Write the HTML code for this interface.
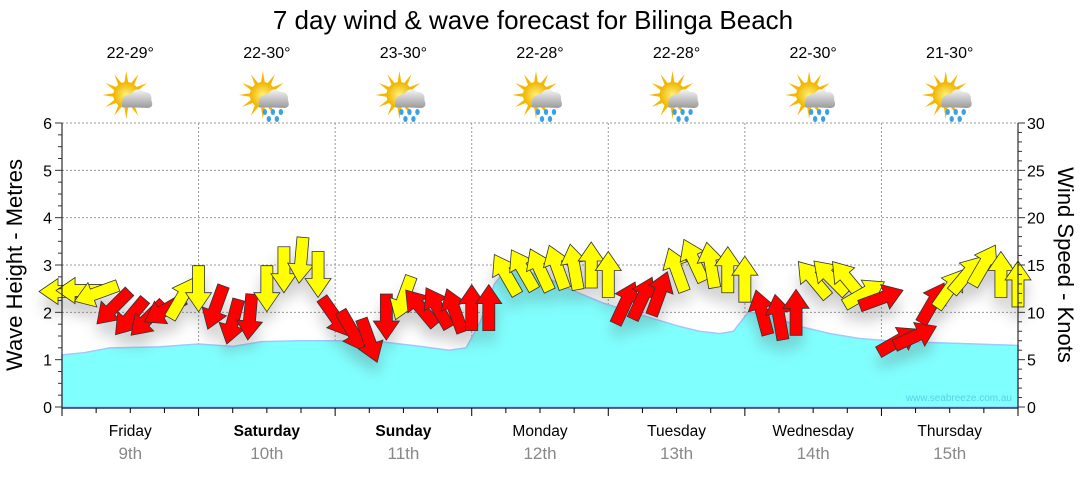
<!DOCTYPE html>
<html><head><meta charset="utf-8"><style>
body{margin:0;background:#fff;width:1080px;height:475px;overflow:hidden;font-family:"Liberation Sans",sans-serif}
</style></head><body>
<svg id="c" width="1080" height="475" viewBox="0 0 1080 475" xmlns="http://www.w3.org/2000/svg" font-family="Liberation Sans, sans-serif">
<defs>
<filter id="sh" x="-50%" y="-50%" width="200%" height="200%"><feGaussianBlur stdDeviation="7"/></filter>
<radialGradient id="sun" cx="50%" cy="50%" r="50%"><stop offset="0" stop-color="#fff27a"/><stop offset="1" stop-color="#f0b400"/></radialGradient>
<linearGradient id="cloud" x1="0" y1="0" x2="0" y2="1"><stop offset="0" stop-color="#f4f4f4"/><stop offset="1" stop-color="#9a9a9a"/></linearGradient>
</defs>
<text x="533" y="29" text-anchor="middle" font-size="26">7 day wind &amp; wave forecast for Bilinga Beach</text>
<g id="grid"></g><g id="wave"></g><g id="shadow" filter="url(#sh)" opacity="0.3"></g><g id="arrows"></g><g id="axes"></g><g id="wx"></g>
<text x="1012" y="401" text-anchor="end" font-size="10" fill="#5cd0e0">www.seabreeze.com.au</text>
<text transform="translate(22,265) rotate(-90)" text-anchor="middle" font-size="22">Wave Height - Metres</text>
<text transform="translate(1058,265) rotate(90)" text-anchor="middle" font-size="22">Wind Speed - Knots</text>
</svg>
<script>
const days=["Friday","Saturday","Sunday","Monday","Tuesday","Wednesday","Thursday"];
const dates=["9th","10th","11th","12th","13th","14th","15th"];
const boldDays=[false,true,true,false,false,false,false];
const temps=["22-29°","22-30°","23-30°","22-28°","22-28°","22-30°","21-30°"];
const rainy=[false,true,true,true,true,true,true];
const waveHours=[0,4,8.4,17,24,30,35,42,48,56,63,68,71,73.5,76,78,82,85,89,95,101.6,108.6,112,115.6,118,120.6,124,129.7,135,140,147,156,168];
const waveHeights=[1.1,1.15,1.25,1.27,1.33,1.28,1.38,1.4,1.4,1.38,1.28,1.2,1.25,1.8,2.6,2.9,2.85,2.75,2.5,2.2,1.95,1.7,1.6,1.55,1.6,2.0,1.95,1.7,1.55,1.45,1.38,1.35,1.3];
const windSpeeds=[12.2,12.3,12,10.5,9.5,9.3,10.2,11.5,12.5,10.5,9,9.5,12.5,14.5,15.5,14,9.5,8,7,9.5,11.5,10.5,10.5,10.2,10.5,10.5,14,14.5,14.5,14.8,14.8,15,14,11,11.5,12,14.5,15.5,15,14.5,13.5,10,9.5,10,13.5,13.7,13.5,12,11.5,7,7.5,11,12.5,14,15,14,13];
const windDirs=[270,270,250,225,220,225,240,30,180,200,195,185,180,180,185,180,145,150,160,180,200,320,330,340,0,0,330,330,335,340,350,0,0,25,25,20,340,335,350,0,0,345,350,0,320,315,320,60,70,60,65,30,35,40,30,0,0];
const windColors=["y","y","y","r","r","r","r","y","y","r","r","r","y","y","y","y","r","r","r","r","y","r","r","r","r","r","y","y","y","y","y","y","y","r","r","r","y","y","y","y","y","r","r","r","y","y","y","y","r","r","r","r","y","y","y","y","y"];
const X0=62,X1=1018,Y0=407,Y1=123,H=168;
const xs=h=>X0+(X1-X0)*h/H, yw=m=>Y0-(Y0-Y1)*m/6, yk=k=>Y0-(Y0-Y1)*k/30;
const NS="http://www.w3.org/2000/svg";
function mk(t,a,p){const e=document.createElementNS(NS,t);for(const k in a)e.setAttribute(k,a[k]);p.appendChild(e);return e;}
const grid=document.getElementById('grid'),axes=document.getElementById('axes'),wave=document.getElementById('wave'),arr=document.getElementById('arrows'),shd=document.getElementById('shadow'),wx=document.getElementById('wx');
for(let m=1;m<=6;m++){const l=mk('line',{x1:X0,x2:X1,y1:yw(m),y2:yw(m),stroke:'#999','stroke-dasharray':'2,2'},grid);}
for(let d=1;d<7;d++){const l=mk('line',{x1:xs(d*24),x2:xs(d*24),y1:Y1,y2:Y0,stroke:'#999','stroke-dasharray':'2,2'},grid);}
let pts=waveHours.map((h,i)=>xs(h)+','+yw(waveHeights[i])).join(' ');
const wa=mk('polygon',{points:X0+','+Y0+' '+pts+' '+X1+','+Y0,fill:'#80ffff',stroke:'#a0c8ff','stroke-width':1.5},wave);

mk('line',{x1:X0,x2:X0,y1:Y1,y2:Y0+1,stroke:'#000'},axes);
mk('line',{x1:X1,x2:X1,y1:Y1,y2:Y0+1,stroke:'#000'},axes);
mk('line',{x1:X0,x2:X1,y1:Y0+1,y2:Y0+1,stroke:'#1a3a6a','stroke-width':1.5},axes);
for(let q=0;q<=24;q++){const y=yw(q/4);mk('line',{x1:X0-(q%4?4:7),x2:X0,y1:y,y2:y,stroke:'#333'},axes);}
for(let m=0;m<=6;m++){const t=mk('text',{x:X0-10,y:yw(m)+6,'text-anchor':'end','font-size':16},axes);t.textContent=m;}
for(let k=0;k<=30;k++){const y=yk(k);mk('line',{x1:X1,x2:X1+(k%5?4:7),y1:y,y2:y,stroke:'#333'},axes);}
for(let k=0;k<=30;k+=5){const t=mk('text',{x:X1+9,y:yk(k)+6,'font-size':16},axes);t.textContent=k;}
for(let h=0;h<=168;h+=6){const x=xs(h);mk('line',{x1:x,x2:x,y1:Y0+1,y2:Y0+(h%24?6:9),stroke:'#000'},axes);}
days.forEach((d,i)=>{const cx=xs(i*24+12);
const t=mk('text',{x:cx,y:436,'text-anchor':'middle','font-size':15.5,'font-weight':boldDays[i]?'bold':'normal'},axes);t.textContent=d;
const t2=mk('text',{x:cx,y:459,'text-anchor':'middle','font-size':17,fill:'#888'},axes);t2.textContent=dates[i];
const t3=mk('text',{x:cx,y:58,'text-anchor':'middle','font-size':16},wx);t3.textContent=temps[i];
const g=mk('g',{transform:'translate('+(cx-4)+',95)'},wx);
for(let a=0;a<360;a+=30){const r=a*Math.PI/180;mk('polygon',{points:[(Math.cos(r)*24)+','+(Math.sin(r)*24),(Math.cos(r+0.2)*11)+','+(Math.sin(r+0.2)*11),(Math.cos(r-0.2)*11)+','+(Math.sin(r-0.2)*11)].join(' '),fill:'#f5b800'},g);}
mk('circle',{cx:0,cy:0,r:13,fill:'url(#sun)'},g);
mk('path',{d:'M-4 12 Q-6 0 5 -1 Q10 -9 18 -3 Q26 -3 25 5 Q28 12 22 13 Z',fill:'url(#cloud)'},g);
if(rainy[i]){[[2,17],[10,17],[18,17],[6,24],[14,24]].forEach(p=>mk('ellipse',{cx:p[0],cy:p[1],rx:2.2,ry:3,fill:'#3aa0e8'},g));}
});
const AP='M-6,23 L6,23 L6,-4 L13,-4 L0,-23 L-13,-4 L-6,-4 Z';
windSpeeds.forEach((k,i)=>{const x=xs(i*3),y=yk(k);
mk('path',{d:AP,transform:'translate('+x+','+(y+12)+') rotate('+windDirs[i]+')',fill:'#555'},shd);});
windSpeeds.forEach((k,i)=>{const x=xs(i*3),y=yk(k);
const p=mk('path',{d:AP,transform:'translate('+x+','+y+') rotate('+windDirs[i]+')',fill:windColors[i]=='y'?'#ffff00':'#ff0000',stroke:'#333','stroke-width':0.8},arr);
});
</script>
</body></html>
